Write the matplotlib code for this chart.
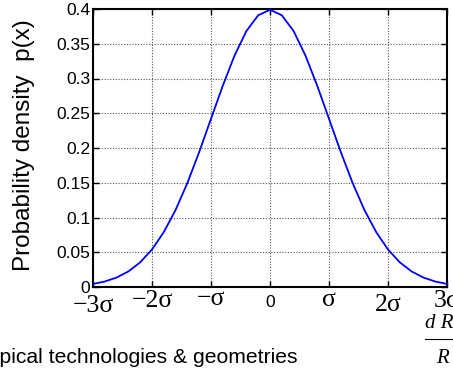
import numpy as np
import matplotlib.pyplot as plt
from matplotlib.lines import Line2D

# values, x in units of sigma
x_sigma = [-3.0, -2.8, -2.6, -2.4, -2.2, -2.0, -1.8, -1.6, -1.4, -1.2, -1.0, -0.8, -0.6, -0.4, -0.2,
           0.0, 0.2, 0.4, 0.6, 0.8, 1.0, 1.2, 1.4, 1.6, 1.8, 2.0, 2.2, 2.4, 2.6, 2.8, 3.0]
density = [0.0044, 0.0079, 0.0136, 0.0224, 0.0355, 0.054, 0.079, 0.1109, 0.1497, 0.1942, 0.242,
           0.2897, 0.3332, 0.3683, 0.391, 0.3989, 0.391, 0.3683, 0.3332, 0.2897, 0.242, 0.1942,
           0.1497, 0.1109, 0.079, 0.054, 0.0355, 0.0224, 0.0136, 0.0079, 0.0044]

xticks = [-3, -2, -1, 0, 1, 2, 3]
xtick_labels = ["\u22123\u03c3", "\u22122\u03c3", "\u2212\u03c3", "0", "\u03c3", "2\u03c3", "3\u03c3"]
yticks = [0, 0.05, 0.1, 0.15, 0.2, 0.25, 0.3, 0.35, 0.4]
ytick_labels = ["0", "0.05", "0.1", "0.15", "0.2", "0.25", "0.3", "0.35", "0.4"]

plt.rcParams['font.family'] = ['Liberation Sans', 'DejaVu Sans']

fig = plt.figure(figsize=(4.53, 3.70), dpi=100)
ax = fig.add_axes([93 / 453, 1 - 287 / 370, 354 / 453, 278 / 370])

ax.plot(x_sigma, density, color='#0000ff', lw=1.3, zorder=3)

ax.set_xlim(-3, 3)
ax.set_ylim(0, 0.4)
ax.set_xticks(xticks)
ax.set_xticklabels([])
ax.set_yticks(yticks)
ax.set_yticklabels(ytick_labels, fontsize=12.5)

# sigma labels sit at slightly different heights in the original
drops = [25, 20, 18, 20, 19, 24, 20]  # px below the axis, to baseline
for xv, txt, d in zip(xticks, xtick_labels, drops):
    if txt == "0":
        kw = dict(fontsize=12.5, family=['Liberation Sans'])
    else:
        kw = dict(fontsize=18.5, family=['Liberation Serif', 'DejaVu Serif'])
    ax.annotate(txt, (xv, 0), xycoords=('data', 'axes fraction'),
                xytext=(0, -d * 0.72), textcoords='offset points',
                ha='center', va='baseline', annotation_clip=False, **kw)

ax.tick_params(direction='in', length=4, width=1, top=True, right=True, pad=2)
ax.grid(True, linestyle=(0, (1, 1.5)), color='#555555', lw=0.8)
for s in ax.spines.values():
    s.set_linewidth(1.5)

fig.text(24 / 453, 1 - 145 / 370, "Probability density  p(x)", fontsize=17.5,
         rotation=90, ha='center', va='center')

# text under the plot, clipped at the figure edges like the reference
fig.text(-23 / 453, 1 - 363 / 370, "Typical technologies & geometries",
         fontsize=15.2, va='baseline', ha='left')
fig.text(425 / 453, 1 - 328 / 370, "d R", fontsize=15, style='italic',
         family=['Liberation Serif'], va='baseline', ha='left')
fig.add_artist(Line2D([425 / 453, 1.0], [1 - 339 / 370, 1 - 339 / 370],
                      transform=fig.transFigure, color='black', lw=0.8))
fig.text(436 / 453, 1 - 363 / 370, "R", fontsize=15, style='italic',
         family=['Liberation Serif'], va='baseline', ha='left')

fig.savefig("out.png", dpi=100)
